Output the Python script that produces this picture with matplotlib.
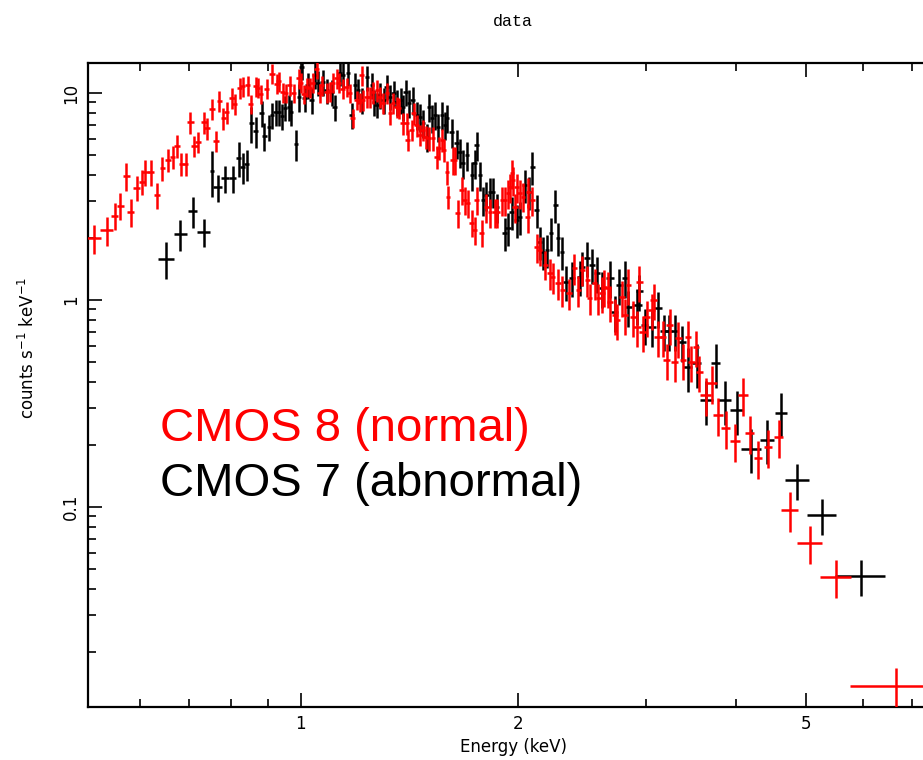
import numpy as np
import matplotlib
matplotlib.use("Agg")
import matplotlib.pyplot as plt
from matplotlib.ticker import FixedLocator, NullFormatter, FixedFormatter

# ---------------- data ----------------
# CMOS 8 (normal) -- red
red_E = [0.518, 0.539, 0.553, 0.563, 0.574, 0.582, 0.593, 0.603, 0.610, 0.620,
         0.632, 0.644, 0.655, 0.665, 0.674, 0.684, 0.693, 0.704, 0.713, 0.722,
         0.734, 0.741, 0.753, 0.763, 0.772, 0.782, 0.790, 0.803, 0.810, 0.823,
         0.831, 0.845, 0.853, 0.866, 0.872, 0.880, 0.897, 0.912, 0.927, 0.932,
         0.944, 0.953, 0.966, 0.978, 0.994,
         1.000, 1.010, 1.019, 1.029, 1.039, 1.052, 1.062, 1.069, 1.086, 1.097,
         1.107, 1.121, 1.128, 1.143, 1.158, 1.169, 1.180, 1.195, 1.207, 1.214,
         1.218, 1.234, 1.246, 1.258, 1.274, 1.286, 1.298, 1.315, 1.328, 1.341,
         1.358, 1.366, 1.384, 1.402, 1.406, 1.424, 1.433, 1.447, 1.461, 1.475,
         1.489, 1.503, 1.523, 1.542, 1.552, 1.567, 1.577, 1.592, 1.597,
         1.623, 1.634, 1.649, 1.670, 1.686, 1.702, 1.724, 1.740, 1.751, 1.779,
         1.807, 1.826, 1.854, 1.871, 1.897, 1.916, 1.935, 1.946, 1.958, 1.964,
         1.979, 1.991, 2.01, 2.03, 2.06, 2.065, 2.09, 2.12, 2.14, 2.18,
         2.21, 2.23, 2.27, 2.30, 2.35, 2.39, 2.42, 2.45, 2.49, 2.51,
         2.55, 2.58,
         2.61, 2.63, 2.66, 2.68, 2.72, 2.74, 2.78, 2.81, 2.84, 2.88,
         2.92, 2.94, 2.97, 3.01, 3.06, 3.08, 3.12, 3.17, 3.21, 3.24,
         3.29, 3.33, 3.38, 3.43, 3.47, 3.52, 3.56, 3.63, 3.70, 3.78,
         3.87, 3.99, 4.09, 4.18, 4.29, 4.43, 4.58, 4.75, 5.06, 5.50,
         6.66]
red_dE = [0.011, 0.011, 0.006, 0.006, 0.006, 0.006, 0.006, 0.006, 0.006, 0.006,
          0.006, 0.006, 0.006, 0.006, 0.006, 0.006, 0.006, 0.007, 0.007, 0.007,
          0.007, 0.007, 0.007, 0.007, 0.007, 0.007, 0.007, 0.007, 0.007, 0.007,
          0.007, 0.007, 0.007, 0.007, 0.007, 0.007, 0.008, 0.008, 0.008, 0.008,
          0.008, 0.008, 0.008, 0.008, 0.008,
          0.009, 0.009, 0.009, 0.009, 0.009, 0.009, 0.009, 0.009, 0.009, 0.009,
          0.009, 0.009, 0.009, 0.009, 0.009, 0.009, 0.009, 0.009, 0.009, 0.009,
          0.009, 0.009, 0.009, 0.009, 0.009, 0.009, 0.009, 0.009, 0.009, 0.009,
          0.011, 0.011, 0.011, 0.011, 0.011, 0.011, 0.011, 0.011, 0.011, 0.011,
          0.011, 0.011, 0.011, 0.011, 0.011, 0.011, 0.011, 0.011, 0.011,
          0.013, 0.013, 0.013, 0.013, 0.013, 0.013, 0.013, 0.013, 0.013, 0.013,
          0.013, 0.013, 0.013, 0.013, 0.013, 0.013, 0.013, 0.013, 0.013, 0.013,
          0.016, 0.016, 0.016, 0.016, 0.016, 0.016, 0.016, 0.016, 0.016, 0.016,
          0.020, 0.020, 0.020, 0.020, 0.020, 0.020, 0.020, 0.020, 0.020, 0.020,
          0.020, 0.020,
          0.025, 0.025, 0.025, 0.025, 0.025, 0.025, 0.025, 0.025, 0.025, 0.025,
          0.035, 0.035, 0.035, 0.035, 0.035, 0.035, 0.035, 0.035, 0.035, 0.035,
          0.035, 0.035, 0.035, 0.035, 0.035, 0.035, 0.035, 0.060, 0.060, 0.060,
          0.060, 0.060, 0.060, 0.060, 0.060, 0.060, 0.060, 0.13, 0.20, 0.27,
          0.91]
red_F = [1.99, 2.18, 2.55, 2.85, 3.97, 2.66, 3.48, 3.72, 4.15, 4.15,
         3.21, 4.34, 4.75, 4.91, 5.55, 4.54, 4.54, 7.24, 5.55, 5.80,
         7.24, 6.77, 8.37, 5.87, 9.15, 7.57, 8.09, 9.46, 8.85, 10.6,
         10.8, 10.9, 8.85, 10.8, 10.6, 9.89, 10.5, 12.4, 11.1, 11.4,
         10.1, 10.0, 10.9, 10.0, 11.8,
         11.2, 9.89, 10.7, 10.6, 11.2, 13.1, 10.0, 10.9, 10.1, 10.2,
         11.2, 11.8, 11.2, 10.5, 10.7, 10.0, 7.57, 9.25, 9.05, 12.2,
         9.25, 9.57, 9.57, 10.1, 10.3, 9.57, 8.95, 10.0, 8.00, 8.95,
         8.56, 8.47, 7.16, 7.16, 5.94, 6.63, 8.00, 7.00, 6.27, 6.63,
         6.13, 6.06, 6.06, 4.91, 5.43, 5.94, 5.31, 4.15, 3.15,
         4.75, 4.75, 2.63, 3.40, 3.04, 2.94, 2.36, 2.18, 3.04, 2.11,
         2.81, 2.66, 2.66, 2.66, 3.04, 3.04, 3.29, 3.51, 4.11, 3.80,
         2.81, 3.51, 3.29, 3.15, 2.52, 3.33, 3.04, 1.80, 1.74, 1.48,
         1.35, 1.29, 1.21, 1.12, 1.08, 1.43, 1.12, 1.40, 1.25, 1.02,
         1.21, 1.02,
         1.08, 1.16, 1.14, 0.978, 0.846, 0.801, 1.03, 0.846, 1.18, 0.828,
         0.741, 1.22, 0.700, 0.828, 0.895, 1.00, 0.663, 0.663, 0.513, 0.757,
         0.502, 0.655, 0.513, 0.663, 0.502, 0.593, 0.449, 0.348, 0.397, 0.278,
         0.241, 0.208, 0.348, 0.228, 0.172, 0.195, 0.218, 0.0967, 0.0670, 0.0459,
         0.0137]
red_relerr = [0.16, 0.16, 0.15, 0.15, 0.15, 0.15, 0.14, 0.14, 0.14, 0.14,
              0.14, 0.13, 0.13, 0.13, 0.13, 0.13, 0.13, 0.12, 0.12, 0.12,
              0.12, 0.12, 0.12, 0.12, 0.12, 0.12, 0.12, 0.12, 0.12, 0.12,
              0.11, 0.11, 0.11, 0.11, 0.11, 0.11, 0.11, 0.11, 0.11, 0.11,
              0.11, 0.11, 0.11, 0.11, 0.11,
              0.11, 0.11, 0.11, 0.11, 0.11, 0.11, 0.11, 0.11, 0.11, 0.11,
              0.11, 0.11, 0.11, 0.11, 0.11, 0.11, 0.11, 0.11, 0.11, 0.11,
              0.12, 0.12, 0.12, 0.12, 0.12, 0.12, 0.12, 0.12, 0.12, 0.12,
              0.12, 0.12, 0.12, 0.12, 0.12, 0.12, 0.12, 0.12, 0.12, 0.12,
              0.13, 0.13, 0.13, 0.13, 0.13, 0.13, 0.13, 0.13, 0.13,
              0.15, 0.15, 0.15, 0.15, 0.15, 0.15, 0.15, 0.15, 0.15, 0.15,
              0.16, 0.16, 0.16, 0.16, 0.16, 0.16, 0.16, 0.16, 0.16, 0.16,
              0.16, 0.16, 0.16, 0.16, 0.16, 0.16, 0.16, 0.16, 0.16, 0.16,
              0.17, 0.17, 0.17, 0.17, 0.17, 0.17, 0.17, 0.17, 0.17, 0.17,
              0.17, 0.17,
              0.20, 0.20, 0.20, 0.20, 0.20, 0.20, 0.20, 0.20, 0.20, 0.20,
              0.20, 0.20, 0.20, 0.20, 0.20, 0.20, 0.20, 0.20, 0.20, 0.20,
              0.20, 0.20, 0.20, 0.20, 0.20, 0.20, 0.20, 0.21, 0.21, 0.21,
              0.21, 0.21, 0.21, 0.21, 0.21, 0.21, 0.21, 0.22, 0.21, 0.21,
              0.22]

# CMOS 7 (abnormal) -- black
blk_E = [0.652, 0.682, 0.709, 0.734, 0.753, 0.768, 0.785, 0.805, 0.821, 0.831,
         0.842, 0.855, 0.866, 0.883, 0.891, 0.903, 0.912, 0.923, 0.932, 0.941,
         0.950, 0.962, 0.969, 0.984, 0.994,
         1.003, 1.013, 1.023, 1.036, 1.046, 1.056, 1.073, 1.086, 1.104, 1.114,
         1.132, 1.143, 1.162, 1.176, 1.188, 1.199, 1.214, 1.234, 1.254, 1.262,
         1.274, 1.286, 1.303, 1.315, 1.328, 1.345, 1.358, 1.375, 1.384, 1.397,
         1.411, 1.428, 1.447, 1.461, 1.475, 1.494, 1.503, 1.518, 1.533, 1.547,
         1.567, 1.582, 1.592,
         1.618, 1.644, 1.659, 1.675, 1.697, 1.724, 1.740, 1.751, 1.769, 1.786,
         1.807, 1.826, 1.843, 1.871, 1.916, 1.935, 1.958, 1.991, 2.01, 2.04,
         2.07, 2.09, 2.12, 2.14, 2.16, 2.19, 2.22, 2.25, 2.27, 2.30,
         2.33, 2.37, 2.43, 2.45, 2.49, 2.53,
         2.57, 2.61, 2.68, 2.72, 2.76, 2.81, 2.84, 2.92, 2.94, 2.99,
         3.06, 3.12, 3.18, 3.23, 3.29, 3.37, 3.43, 3.53, 3.64, 3.75,
         3.86, 4.01, 4.20, 4.42, 4.62, 4.86, 5.26, 5.96]
blk_dE = [0.017, 0.015, 0.010, 0.016, 0.005, 0.011, 0.010, 0.010, 0.007, 0.006,
          0.006, 0.008, 0.006, 0.006, 0.006, 0.006, 0.006, 0.006, 0.006, 0.006,
          0.006, 0.006, 0.006, 0.006, 0.006,
          0.008, 0.008, 0.008, 0.008, 0.008, 0.008, 0.008, 0.008, 0.008, 0.008,
          0.008, 0.008, 0.008, 0.008, 0.008, 0.008, 0.008, 0.008, 0.008, 0.008,
          0.010, 0.010, 0.010, 0.010, 0.010, 0.010, 0.010, 0.010, 0.010, 0.010,
          0.010, 0.010, 0.010, 0.010, 0.010, 0.010, 0.010, 0.010, 0.010, 0.010,
          0.010, 0.010, 0.010,
          0.012, 0.012, 0.012, 0.012, 0.012, 0.012, 0.012, 0.012, 0.012, 0.012,
          0.012, 0.012, 0.012, 0.012, 0.016, 0.016, 0.016, 0.016, 0.016, 0.016,
          0.016, 0.016, 0.016, 0.016, 0.016, 0.016, 0.016, 0.016, 0.016, 0.016,
          0.022, 0.022, 0.022, 0.022, 0.022, 0.022,
          0.025, 0.025, 0.032, 0.030, 0.030, 0.030, 0.030, 0.047, 0.030, 0.035,
          0.040, 0.040, 0.036, 0.036, 0.036, 0.045, 0.050, 0.050, 0.073, 0.055,
          0.080, 0.085, 0.13, 0.10, 0.09, 0.18, 0.24, 0.47]
blk_F = [1.58, 2.08, 2.69, 2.13, 4.20, 3.51, 3.88, 3.88, 4.85, 4.39,
         4.54, 7.16, 6.55, 8.00, 6.20, 6.85, 7.83, 8.09, 8.09, 7.74,
         8.47, 8.56, 8.09, 5.67, 9.57,
         13.4, 9.46, 10.9, 9.25, 12.2, 11.2, 11.3, 10.3, 10.1, 8.56,
         12.5, 12.2, 12.5, 7.83, 10.9, 10.3, 9.25, 11.9, 10.9, 9.05,
         8.76, 9.78, 9.25, 10.7, 9.57, 10.0, 9.05, 9.25, 8.56, 10.1,
         8.95, 9.25, 7.83, 7.66, 7.16, 6.13, 8.56, 7.57, 7.83, 6.85,
         7.83, 7.00, 7.57,
         6.48, 5.73, 5.19, 4.59, 5.02, 4.02, 4.59, 5.61, 4.02, 3.04,
         3.21, 3.33, 3.33, 2.81, 2.11, 2.23, 2.66, 2.44, 2.52, 3.59,
         3.33, 4.39, 2.72, 1.91, 1.71, 1.74, 2.11, 2.88, 1.99, 1.71,
         1.22, 1.28, 1.29, 1.44, 1.60, 1.48,
         1.35, 1.14, 1.28, 0.875, 1.18, 1.28, 0.925, 0.946, 1.105, 0.757,
         0.741, 0.915, 0.708, 0.708, 0.708, 0.627, 0.474, 0.496, 0.329, 0.496,
         0.329, 0.294, 0.191, 0.211, 0.285, 0.135, 0.0915, 0.0464]
blk_relerr = [0.20, 0.17, 0.17, 0.15, 0.25, 0.15, 0.15, 0.15, 0.19, 0.17,
              0.17, 0.20, 0.17, 0.14, 0.15, 0.14, 0.14, 0.14, 0.14, 0.14,
              0.14, 0.14, 0.14, 0.17, 0.15,
              0.14, 0.14, 0.14, 0.14, 0.14, 0.14, 0.14, 0.14, 0.14, 0.14,
              0.14, 0.14, 0.14, 0.14, 0.14, 0.14, 0.14, 0.14, 0.14, 0.14,
              0.14, 0.14, 0.14, 0.14, 0.14, 0.14, 0.14, 0.14, 0.14, 0.14,
              0.15, 0.15, 0.15, 0.15, 0.15, 0.15, 0.15, 0.15, 0.15, 0.15,
              0.15, 0.15, 0.15,
              0.16, 0.16, 0.16, 0.16, 0.16, 0.16, 0.16, 0.16, 0.16, 0.16,
              0.16, 0.16, 0.16, 0.16, 0.18, 0.18, 0.18, 0.18, 0.18, 0.18,
              0.18, 0.18, 0.18, 0.18, 0.18, 0.18, 0.18, 0.18, 0.18, 0.18,
              0.19, 0.19, 0.19, 0.19, 0.19, 0.19,
              0.20, 0.20, 0.20, 0.20, 0.20, 0.20, 0.20, 0.20, 0.20, 0.20,
              0.20, 0.20, 0.20, 0.20, 0.20, 0.20, 0.24, 0.24, 0.24, 0.24,
              0.24, 0.24, 0.24, 0.24, 0.24, 0.20, 0.20, 0.20]

x_major = [1, 2, 5]
x_major_labels = ["1", "2", "5"]
x_minor = [0.6, 0.7, 0.8, 0.9, 3, 4, 6, 7]
y_major = [0.1, 1, 10]
y_major_labels = ["0.1", "1", "10"]
y_minor = [0.02, 0.03, 0.04, 0.05, 0.06, 0.07, 0.08, 0.09,
           0.2, 0.3, 0.4, 0.5, 0.6, 0.7, 0.8, 0.9,
           2, 3, 4, 5, 6, 7, 8, 9]

# ---------------- figure ----------------
W, H = 923, 760
fig = plt.figure(figsize=(W / 100, H / 100), dpi=100)
fig.patch.set_facecolor("white")
# axes extends a little beyond the right edge of the picture (cropped, as in the reference)
ax = fig.add_axes([88 / W, 53 / H, 850 / W, 644 / H])
ax.set_xscale("log")
ax.set_yscale("log")

bE, bF = np.array(blk_E), np.array(blk_F)
rE, rF = np.array(red_E), np.array(red_F)
ax.errorbar(bE, bF, xerr=np.array(blk_dE), yerr=bF * np.array(blk_relerr),
            fmt="none", ecolor="black", elinewidth=1.8, capsize=0, zorder=3)
ax.errorbar(rE, rF, xerr=np.array(red_dE), yerr=rF * np.array(red_relerr),
            fmt="none", ecolor="#ff0000", elinewidth=1.8, capsize=0, zorder=4)

ax.set_xlim(0.508, 7.61)
ax.set_ylim(0.0108, 13.96)

ax.xaxis.set_major_locator(FixedLocator(x_major))
ax.xaxis.set_major_formatter(FixedFormatter(x_major_labels))
ax.xaxis.set_minor_locator(FixedLocator(x_minor))
ax.xaxis.set_minor_formatter(NullFormatter())
ax.yaxis.set_major_locator(FixedLocator(y_major))
ax.yaxis.set_major_formatter(FixedFormatter(y_major_labels))
ax.yaxis.set_minor_locator(FixedLocator(y_minor))
ax.yaxis.set_minor_formatter(NullFormatter())

ax.tick_params(which="both", direction="in", top=True, right=False,
               width=1.2, colors="black")
ax.tick_params(which="major", length=10)
ax.tick_params(which="minor", length=6)
ax.tick_params(axis="x", which="major", labelsize=12, pad=6)
ax.tick_params(axis="y", which="major", labelsize=12, pad=6, labelrotation=90)
for lab in ax.get_yticklabels():
    lab.set_verticalalignment("center")

for s in ["left", "bottom", "top"]:
    ax.spines[s].set_linewidth(1.6)
ax.spines["right"].set_visible(False)

ax.set_xlabel("Energy (keV)", fontsize=12, labelpad=3)
ax.set_ylabel(r"counts s$^{-1}$ keV$^{-1}$", fontsize=12)
ax.yaxis.set_label_coords(-0.059, 0.557)

fig.text(513 / W, 1 - 22 / H, "data", family="Liberation Mono", fontsize=12,
         ha="center", va="center")

fig.text(160 / W, 1 - 441 / H, "CMOS 8 (normal)", color="#ff0000",
         family="Liberation Sans", fontsize=34, ha="left", va="baseline")
fig.text(160 / W, 1 - 496 / H, "CMOS 7 (abnormal)", color="black",
         family="Liberation Sans", fontsize=34, ha="left", va="baseline")

fig.savefig("out.png", dpi=100, facecolor="white")
